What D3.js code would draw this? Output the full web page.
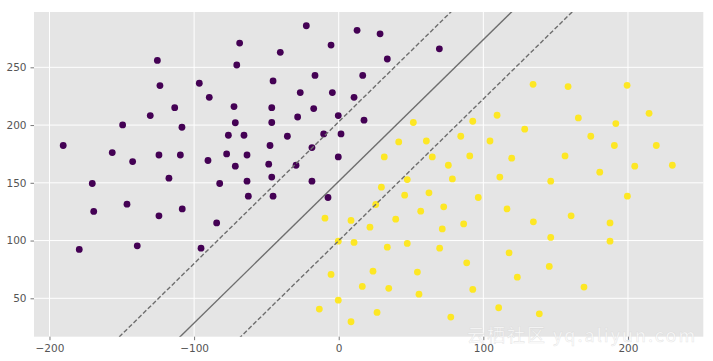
<!DOCTYPE html>
<html>
<head>
<meta charset="utf-8">
<script src="https://cdn.jsdelivr.net/npm/d3@7"></script>
<style>
  html, body { margin: 0; padding: 0; background: #ffffff; }
  svg { display: block; }
</style>
</head>
<body>
<svg id="chart" width="713" height="361"></svg>
<script>
// ---- data ----
const classA = [
  [-190.5,182.3],[-125.4,256],[-123.6,234.2],[-96.4,236.2],[-89.5,224],[-68.5,271],[-70.5,252],[-72.4,216],
  [-71.5,202],[-76.3,191.2],[-65.5,191.2],[-113.4,215.1],[-130.3,208.2],[-149.4,200.1],[-108.4,198.1],
  [-156.6,176.2],[-142.5,168.4],[-124.3,174.1],[-109.5,174.1],[-90.4,169.3],[-77.5,175],[-63.4,174.1],
  [-71.5,164.4],[-117.4,154],[-170.4,149.4],[-82.3,149.4],[-63.4,151.4],[-62.5,138.4],[-169.4,125.2],
  [-146.4,131.5],[-124.3,121.4],[-108.2,127.4],[-84.4,115.3],[-179.4,92.3],[-139.3,95.4],[-95.2,93.4],
  [-22.4,286],[12.7,282],[28.6,279],[-5.3,269.3],[-40.4,263],[69.6,266],[33.6,257.2],[-16.4,243],
  [16.6,243],[-45.4,238.2],[-26.6,228.1],[-4.4,228.1],[10.6,224],[-46.3,215.1],[-17.3,214.3],[-28.4,207],
  [-0.3,208.2],[17.5,204.2],[-46.3,202.2],[-35.5,190.3],[-10.4,192.3],[1.6,192.3],[-47.5,182.3],
  [-18.5,180.5],[-0.3,172.4],[-48.4,166.1],[-29.5,165.2],[-46.3,155],[-18.5,151.4],[-45.4,138.4],[-7.4,137.3]
];
const classB = [
  [47.4,152.8],[78.6,153.4],[29.5,146.2],[45.6,139.3],[62.4,141.3],[96.5,137.3],[25.6,131.2],[56.7,125.4],
  [72.6,129.2],[-9.5,119.4],[8.5,117.4],[21.6,111.6],[39.4,118.5],[71.6,110.1],[86.4,114.4],[-0.3,99.5],
  [10.6,98.4],[33.6,94.3],[47.4,97.5],[69.8,93.4],[88.5,80.7],[-5.3,70.7],[23.7,73.5],[54.4,72.7],
  [16.3,60.3],[34.6,58.6],[55.5,53.6],[92.7,57.7],[-0.3,48.4],[-13.4,40.7],[26.5,37.8],[77.5,33.7],[8.5,29.7],
  [51.6,202.2],[92.7,203.3],[41.5,185.4],[60.6,186.2],[84.4,190.3],[31.5,172.4],[64.7,172.4],[90.6,173.3],
  [75.8,165.2],[134.4,235.3],[158.6,233.3],[199.4,234.4],[109.5,208.5],[165.7,206.2],[214.6,210.2],
  [191.6,201.3],[128.6,196.4],[104.6,186.2],[174.3,190.3],[190.6,182.3],[219.6,182.3],[119.6,171.3],
  [156.5,173.3],[204.7,164.4],[230.7,165.2],[180.5,159.2],[111.4,155],[146.6,151.4],[199.6,138.4],
  [116.4,127.4],[160.7,121.4],[134.6,116.2],[187.6,115.3],[146.6,102.7],[187.6,99.5],[117.8,89.4],
  [145.6,77.6],[123.5,68.3],[169.6,59.7],[110.6,41.8],[138.7,36.6]
];
const classColors = ["#440154", "#fde725"];
// decision boundary y = slope*x + intercept, with margins
const boundarySlope = 1.227;
const boundaryIntercepts = [202.8, 151.3, 99.9];
const boundaryStyles = ["dashed", "solid", "dashed"];
const xTicks = [-200, -100, 0, 100, 200];
const yTicks = [50, 100, 150, 200, 250];
const xDomain = [-210.7, 252.1];
const yDomain = [16.75, 297.9];
const watermark = "云栖社区 yq.aliyun.com";

// ---- layout ----
const svg = d3.select("#chart");
const L = 34, R = 703.3, T = 12, B = 336.7;
const x = d3.scaleLinear().domain(xDomain).range([L, R]);
const y = d3.scaleLinear().domain(yDomain).range([B, T]);

svg.append("defs").append("clipPath").attr("id", "clip")
  .append("rect").attr("x", L).attr("y", T).attr("width", R - L).attr("height", B - T);

svg.append("rect").attr("x", L).attr("y", T).attr("width", R - L).attr("height", B - T)
  .attr("fill", "#e5e5e5");

// grid
const grid = svg.append("g");
grid.selectAll(".gx").data(xTicks).join("line")
  .attr("x1", d => x(d)).attr("x2", d => x(d)).attr("y1", T).attr("y2", B)
  .attr("stroke", "#ffffff").attr("stroke-width", 1);
grid.selectAll(".gy").data(yTicks).join("line")
  .attr("y1", d => y(d)).attr("y2", d => y(d)).attr("x1", L).attr("x2", R)
  .attr("stroke", "#ffffff").attr("stroke-width", 1);

// axes
const fmt = d => d < 0 ? "\u2212" + Math.abs(d) : String(d);
const xAxis = svg.append("g").attr("transform", `translate(0,${B})`)
  .call(d3.axisBottom(x).tickValues(xTicks).tickFormat(fmt).tickSize(3.5).tickPadding(4));
const yAxis = svg.append("g").attr("transform", `translate(${L},0)`)
  .call(d3.axisLeft(y).tickValues(yTicks).tickFormat(fmt).tickSize(3.5).tickPadding(4));
[xAxis, yAxis].forEach(a => {
  a.select(".domain").remove();
  a.selectAll(".tick line").attr("stroke", "#555555").attr("stroke-width", 0.8);
  a.selectAll(".tick text").attr("fill", "#555555")
    .style("font-family", "'DejaVu Sans', sans-serif").style("font-size", "10.5px");
});

// points
const pts = svg.append("g").attr("clip-path", "url(#clip)");
const allPts = classA.map(d => ({p: d, c: 0})).concat(classB.map(d => ({p: d, c: 1})));
pts.selectAll("circle").data(allPts).join("circle")
  .attr("cx", d => x(d.p[0])).attr("cy", d => y(d.p[1])).attr("r", 3.4)
  .attr("fill", d => classColors[d.c]);

// decision lines
const lines = svg.append("g").attr("clip-path", "url(#clip)");
const lineGen = d3.line().x(d => x(d[0])).y(d => y(d[1]));
boundaryIntercepts.forEach((b, i) => {
  const xs = [-400, 400];
  lines.append("path")
    .attr("d", lineGen(xs.map(v => [v, boundarySlope * v + b])))
    .attr("fill", "none").attr("stroke", "#6e6e6e").attr("stroke-width", 1.4)
    .attr("stroke-dasharray", boundaryStyles[i] === "dashed" ? "4.5,2.2" : null);
});

// watermark
svg.append("text").attr("x", 467).attr("y", 342).text(watermark)
  .attr("fill", "#ffffff").attr("fill-opacity", 0.8)
  .attr("stroke", "#cfcfcf").attr("stroke-opacity", 0.5).attr("stroke-width", 0.6)
  .style("letter-spacing", "2px")
  .style("font-family", "'Noto Sans CJK SC', sans-serif").style("font-size", "18px");
</script>
</body>
</html>
